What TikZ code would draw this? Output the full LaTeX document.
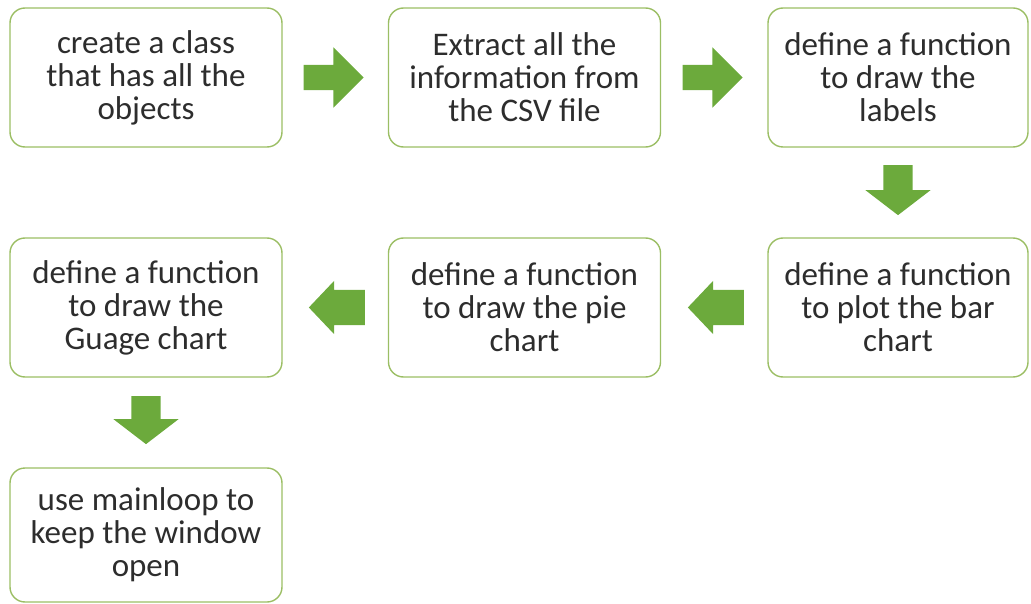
\documentclass[tikz,border=0pt]{standalone}
\usepackage{fontspec}
\setmainfont{Carlito}
\usetikzlibrary{calc,positioning,shapes.arrows}
\definecolor{boxline}{RGB}{155,190,100}
\definecolor{arrowgreen}{RGB}{108,170,60}
\definecolor{txt}{RGB}{45,45,45}
\begin{document}
\begin{tikzpicture}[x=1pt,y=-1pt,
  rarr/.style={single arrow, fill=arrowgreen, draw=none, inner sep=12.5pt, minimum height=60pt, single arrow head extend=17.5pt, single arrow tip angle=90, xshift=-8pt},
  larr/.style={single arrow, fill=arrowgreen, draw=none, inner sep=17.5pt, minimum height=56pt, single arrow head extend=9pt, single arrow tip angle=93, shape border rotate=180, xshift=10pt},
  darr/.style={single arrow, fill=arrowgreen, draw=none, inner sep=14.5pt, minimum height=50pt, single arrow head extend=18pt, single arrow tip angle=105, shape border rotate=270, yshift=8pt}]
\tikzstyle{box}=[draw=boxline, line width=1.4pt, rounded corners=15pt, minimum width=272pt, minimum height=139pt, align=center, text=txt, font=\fontsize{33}{33}\selectfont, inner sep=0pt]
\useasboundingbox (0,0) rectangle (1031,604);
\node[box] (class) at (146,77.5) {create a class\\that has all the\\objects};
\node[box] (csv) at (524.5,77.5) {Extract all the\\information from\\the CSV file};
\node[box, minimum width=260pt] (labels) at (898,77.5) {define a function\\to draw the\\labels};
\node[box, minimum width=260pt] (bar) at (898,307.5) {define a function\\to plot the bar\\chart};
\node[box] (pie) at (524.5,307.5) {define a function\\to draw the pie\\chart};
\node[box] (gauge) at (146,307.5) {define a function\\to draw the\\Guage chart};
\node[box, minimum height=134pt] (loop) at (146,535) {use mainloop to\\keep the window\\open};
% block arrows between the boxes
\node[rarr] (a1) at ($(class.east)!0.5!(csv.west)$) {};
\node[rarr] (a2) at ($(csv.east)!0.5!(labels.west)$) {};
\node[darr] (a3) at ($(labels.south)!0.5!(bar.north)$) {};
\node[larr] (a4) at ($(bar.west)!0.5!(pie.east)$) {};
\node[larr] (a5) at ($(pie.west)!0.5!(gauge.east)$) {};
\node[darr, minimum height=48pt] (a6) at ($(gauge.south)!0.5!(loop.north)$) {};
\end{tikzpicture}
\end{document}
